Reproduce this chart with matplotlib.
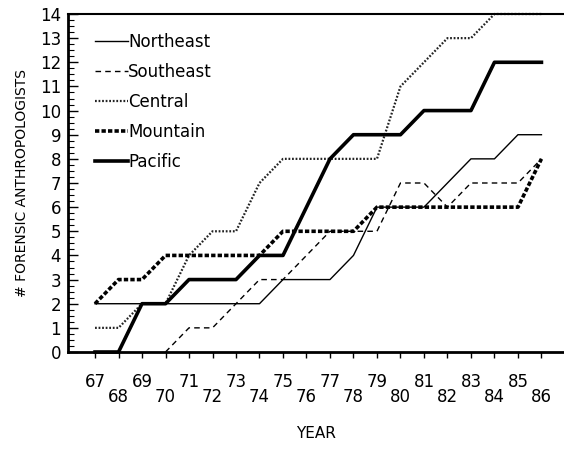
import matplotlib
matplotlib.use('Agg')
import matplotlib.pyplot as plt
from matplotlib.ticker import MultipleLocator

years = list(range(67, 87))
northeast = [2, 2, 2, 2, 2, 2, 2, 2, 3, 3, 3, 4, 6, 6, 6, 7, 8, 8, 9, 9]
se_years = list(range(70, 87))
southeast = [0, 1, 1, 2, 3, 3, 4, 5, 5, 5, 7, 7, 6, 7, 7, 7, 8]
central = [1, 1, 2, 2, 4, 5, 5, 7, 8, 8, 8, 8, 8, 11, 12, 13, 13, 14, 14, 14]
mountain = [2, 3, 3, 4, 4, 4, 4, 4, 5, 5, 5, 5, 6, 6, 6, 6, 6, 6, 6, 8]
pacific = [0, 0, 2, 2, 3, 3, 3, 4, 4, 6, 8, 9, 9, 9, 10, 10, 10, 12, 12, 12]

plt.rcParams['font.family'] = 'DejaVu Sans'

fig = plt.figure(figsize=(5.64, 4.5), dpi=100)
ax = fig.add_axes([68 / 564, 98 / 450, 496 / 564, 338 / 450])

ax.plot(years, northeast, color='black', lw=1.0, label='Northeast', clip_on=False)
ax.plot(se_years, southeast, color='black', lw=1.0, ls=(0, (4, 3)),
        label='Southeast', clip_on=False)
ax.plot(years, central, color='#222222', lw=1.6, ls=(0, (0.8, 0.8)),
        label='Central', clip_on=False)
ax.plot(years, mountain, color='black', lw=2.6, ls=(0, (1.2, 0.6)),
        label='Mountain', clip_on=False)
ax.plot(years, pacific, color='black', lw=2.6, label='Pacific', clip_on=False)

ax.set_xlim(65.85, 86.96)
ax.set_ylim(0, 14)

# odd years on the upper row, even years below
odd = [y for y in years if y % 2 == 1]
even = [y for y in years if y % 2 == 0]
ax.set_xticks(odd)
ax.set_xticklabels([str(y) for y in odd])
ax.set_xticks(even, minor=True)
ax.set_xticklabels([str(y) for y in even], minor=True)
ax.tick_params(axis='x', which='major', direction='out', length=4, width=1,
               pad=11, labelsize=12)
ax.tick_params(axis='x', which='minor', direction='out', length=4, width=1,
               pad=22, labelsize=12)

ax.set_yticks(range(0, 15))
ax.yaxis.set_minor_locator(MultipleLocator(0.25))
ax.tick_params(axis='y', which='major', direction='in', length=7, width=1,
               pad=5, labelsize=12)
ax.tick_params(axis='y', which='minor', direction='in', length=4, width=0.8)

ax.spines['right'].set_visible(False)
ax.spines['left'].set_linewidth(2)
ax.spines['bottom'].set_linewidth(2)
ax.spines['top'].set_linewidth(1.5)

ax.set_xlabel('YEAR', fontsize=11, labelpad=14)
ax.set_ylabel('# FORENSIC ANTHROPOLOGISTS', fontsize=10, labelpad=8)

ax.legend(loc='upper left', bbox_to_anchor=(0.054, 0.945), frameon=False,
          fontsize=12, handlelength=2.0, handletextpad=0.0, labelspacing=0.72,
          borderpad=0, borderaxespad=0)

fig.savefig('out.png', dpi=100)
